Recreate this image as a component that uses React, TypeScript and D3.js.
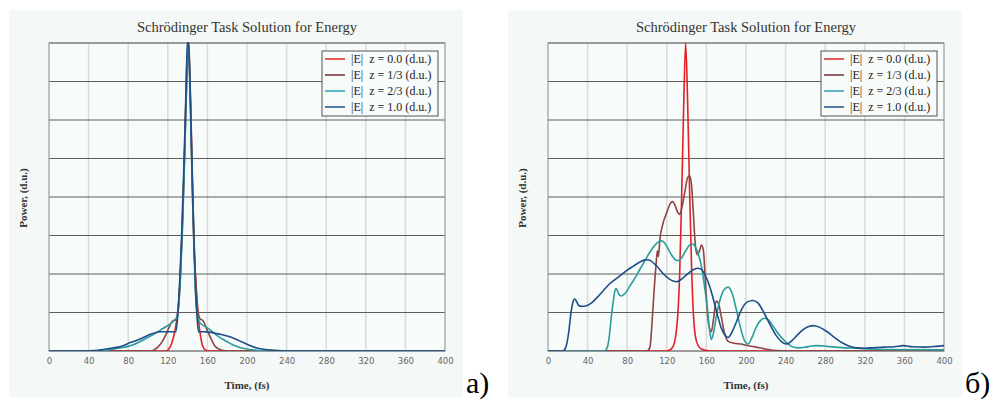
import React, { useEffect, useRef } from 'react';
import * as d3 from 'd3';

// time axis (fs) and power grid (d.u.)
const timeTicks = [0, 40, 80, 120, 160, 200, 240, 280, 320, 360, 400];
const powerGrid = [0, 1, 2, 3, 4, 5, 6, 7, 8];

const legendLabels = [
  '|E|  z = 0.0 (d.u.)',
  '|E|  z = 1/3 (d.u.)',
  '|E|  z = 2/3 (d.u.)',
  '|E|  z = 1.0 (d.u.)'
];
const seriesColors = ['#e41f25', '#8e4444', '#2b9c9c', '#1d4e89'];
const legendColors = ['#e03434', '#7e3a3a', '#3aa6b4', '#2e5c8c'];

// panel a) : [time, power]
const redA = [
  [0, 0], [118, 0], [121, 0.05], [124, 0.2], [127, 0.5], [129, 0.8], [131, 1.3], [133, 2.2],
  [135, 3.5], [137, 5.2], [138.5, 6.8], [140.5, 8.1], [142.5, 6.8], [144, 5.2], [145.5, 3.5],
  [147, 2.4], [149, 1.5], [151, 0.8], [153, 0.4], [155, 0.15], [158, 0.03], [162, 0], [400, 0]
];
const brownA = [
  [0, 0], [102, 0], [106, 0.03], [110, 0.1], [114, 0.23], [118, 0.42], [121, 0.6], [124, 0.75],
  [126, 0.8], [128, 0.8], [130, 0.95], [132, 1.6], [134, 2.8], [136, 4.3], [138, 6.0], [140, 7.6],
  [141, 8.1], [142.5, 7.0], [144, 5.5], [145.5, 3.8], [147, 2.5], [149, 1.5], [151, 0.95],
  [153, 0.82], [155, 0.8], [157, 0.72], [159, 0.58], [161, 0.47], [164, 0.3], [167, 0.15],
  [171, 0.06], [176, 0.01], [180, 0], [400, 0]
];
const tealA = [
  [0, 0], [50, 0], [58, 0.02], [66, 0.05], [74, 0.09], [80, 0.12], [85, 0.16], [90, 0.22],
  [96, 0.3], [102, 0.38], [108, 0.47], [113, 0.55], [118, 0.63], [122, 0.7], [126, 0.78],
  [129, 0.88], [131, 1.2], [133, 2.0], [135, 3.3], [137, 5.0], [139, 7.0], [140.5, 8.1],
  [142, 7.2], [143.5, 5.6], [145, 4.0], [146.5, 2.6], [148, 1.5], [150, 0.9], [152, 0.75],
  [156, 0.66], [160, 0.6], [164, 0.52], [168, 0.44], [172, 0.36], [176, 0.3], [180, 0.24],
  [185, 0.17], [190, 0.12], [196, 0.07], [202, 0.04], [210, 0.02], [220, 0], [400, 0]
];
const blueA = [
  [0, 0], [38, 0], [45, 0.01], [52, 0.03], [58, 0.05], [64, 0.08], [70, 0.1], [76, 0.15],
  [82, 0.22], [87, 0.26], [92, 0.31], [97, 0.37], [102, 0.43], [107, 0.47], [112, 0.5],
  [118, 0.5], [124, 0.5], [128, 0.5], [130, 0.9], [132, 1.8], [134, 3.0], [136, 4.6],
  [138, 6.4], [140, 8.1], [142, 7.4], [143.5, 5.8], [145, 4.2], [146.5, 2.8], [148, 1.6],
  [149.5, 0.9], [151, 0.5], [156, 0.5], [162, 0.49], [168, 0.46], [174, 0.43], [180, 0.39],
  [186, 0.34], [192, 0.27], [198, 0.2], [204, 0.13], [210, 0.08], [218, 0.04], [228, 0.02],
  [240, 0], [400, 0]
];

// panel б)
const redB = [
  [0, 0], [120, 0], [126, 0.1], [130, 0.6], [133, 2.0], [135, 4.0], [137, 6.3], [139, 8.0],
  [141, 6.5], [143, 4.2], [145, 2.2], [147, 0.9], [150, 0.25], [155, 0.05], [165, 0], [400, 0]
];
const brownB = [
  [0, 0], [100, 0], [103, 0.1], [105, 0.7], [107, 1.5], [109, 2.2], [110.5, 2.6], [111.5, 2.45],
  [113, 2.9], [116, 3.3], [120, 3.6], [124, 3.85], [126, 3.88], [128, 3.8], [131, 3.6],
  [133, 3.55], [135, 3.7], [138, 4.1], [141, 4.5], [143, 4.55], [145, 4.3], [147, 3.5],
  [149, 2.7], [151, 2.5], [153, 2.6], [155, 2.75], [157, 2.6], [159, 1.8], [161, 1.0],
  [163, 0.6], [165, 0.5], [167, 0.8], [170, 1.3], [172, 1.25], [175, 0.9], [178, 0.5],
  [182, 0.25], [188, 0.2], [195, 0.18], [200, 0.15], [210, 0.1], [220, 0.05], [230, 0.01],
  [240, 0], [400, 0]
];
const tealB = [
  [0, 0], [57, 0], [60, 0.1], [62, 0.4], [64, 0.9], [66, 1.3], [68, 1.6], [69, 1.62], [71, 1.5],
  [74, 1.43], [78, 1.5], [83, 1.7], [88, 1.9], [93, 2.13], [98, 2.35], [103, 2.57], [108, 2.75],
  [112, 2.84], [115, 2.86], [118, 2.8], [122, 2.62], [126, 2.45], [130, 2.35], [132, 2.35],
  [135, 2.42], [139, 2.6], [143, 2.75], [146, 2.78], [149, 2.7], [152, 2.5], [155, 2.2],
  [158, 1.7], [161, 1.1], [163, 0.6], [165, 0.3], [167, 0.45], [170, 0.9], [174, 1.35],
  [178, 1.6], [182, 1.66], [186, 1.5], [190, 1.1], [194, 0.65], [198, 0.3], [202, 0.18],
  [206, 0.35], [210, 0.6], [215, 0.8], [219, 0.85], [223, 0.8], [228, 0.62], [234, 0.4],
  [240, 0.24], [246, 0.12], [253, 0.08], [260, 0.1], [266, 0.13], [271, 0.14], [278, 0.13],
  [290, 0.1], [312, 0.07], [340, 0.04], [400, 0.03]
];
const blueB = [
  [0, 0], [15, 0], [18, 0.1], [21, 0.5], [23, 0.95], [25, 1.25], [27, 1.35], [29, 1.28],
  [31, 1.18], [34, 1.16], [38, 1.17], [44, 1.25], [50, 1.4], [56, 1.57], [62, 1.74], [68, 1.86],
  [74, 1.98], [80, 2.1], [86, 2.2], [92, 2.3], [97, 2.36], [100, 2.37], [104, 2.34], [110, 2.2],
  [116, 2.02], [122, 1.88], [127, 1.81], [130, 1.8], [134, 1.85], [140, 1.98], [146, 2.1],
  [151, 2.15], [155, 2.12], [159, 1.95], [163, 1.7], [167, 1.35], [171, 0.95], [175, 0.6],
  [179, 0.4], [182, 0.35], [186, 0.5], [191, 0.8], [196, 1.1], [201, 1.27], [207, 1.31],
  [212, 1.25], [218, 1.0], [224, 0.7], [230, 0.42], [236, 0.24], [241, 0.18], [246, 0.26],
  [252, 0.42], [258, 0.56], [264, 0.64], [268, 0.66], [274, 0.62], [282, 0.5], [290, 0.34],
  [298, 0.2], [306, 0.11], [312, 0.08], [320, 0.07], [330, 0.09], [340, 0.1], [350, 0.11],
  [359, 0.14], [368, 0.11], [380, 0.1], [392, 0.12], [400, 0.14]
];

const panels = [
  { left: 9, tag: 'a)', series: [redA, brownA, tealA, blueA] },
  { left: 508, tag: 'б)', series: [redB, brownB, tealB, blueB] }
];

const serif = '"Liberation Serif", "DejaVu Serif", serif';
const sans = '"DejaVu Sans", "Liberation Sans", sans-serif';

const App = () => {
  const chartRef = useRef<SVGSVGElement>(null);

  useEffect(() => {
    const svg = d3.select(chartRef.current);
    svg.selectAll('*').remove();

    panels.forEach((p, pi) => {
      const g = svg.append('g').attr('transform', `translate(${p.left},0)`);
      const bgW = 454;
      const plot = { left: 40, right: 436, top: 43, bottom: 351 };

      g.append('rect')
        .attr('x', 0).attr('y', 10)
        .attr('width', bgW).attr('height', 387)
        .attr('fill', '#f4f8f6');

      const x = d3.scaleLinear().domain([0, 400]).range([plot.left, plot.right]);
      const y = d3.scaleLinear().domain([0, 8]).range([plot.bottom, plot.top]);

      g.append('rect')
        .attr('x', plot.left).attr('y', plot.top)
        .attr('width', plot.right - plot.left).attr('height', plot.bottom - plot.top)
        .attr('fill', '#f7fbf9');

      // vertical light grid
      g.append('g')
        .selectAll('line')
        .data(timeTicks.slice(1, -1))
        .enter()
        .append('line')
        .attr('x1', d => x(d)).attr('x2', d => x(d))
        .attr('y1', plot.top).attr('y2', plot.bottom)
        .attr('stroke', '#d9dcda')
        .attr('stroke-width', 1.5);

      // horizontal dark grid
      g.append('g')
        .selectAll('line')
        .data(powerGrid)
        .enter()
        .append('line')
        .attr('x1', plot.left).attr('x2', plot.right)
        .attr('y1', d => y(d)).attr('y2', d => y(d))
        .attr('stroke', '#5e5e5e')
        .attr('stroke-width', 1);

      g.append('rect')
        .attr('x', plot.left).attr('y', plot.top)
        .attr('width', plot.right - plot.left).attr('height', plot.bottom - plot.top)
        .attr('fill', 'none')
        .attr('stroke', '#8a8a8a');

      const clipId = `clip-${pi}`;
      g.append('clipPath').attr('id', clipId)
        .append('rect')
        .attr('x', plot.left).attr('y', plot.top - 1)
        .attr('width', plot.right - plot.left).attr('height', plot.bottom - plot.top + 1);

      const line = d3.line<number[]>()
        .x(d => x(d[0]))
        .y(d => y(d[1]))
        .curve(d3.curveMonotoneX);

      const lines = g.append('g').attr('clip-path', `url(#${clipId})`);
      p.series.forEach((s, i) => {
        lines.append('path')
          .datum(s)
          .attr('d', line)
          .attr('fill', 'none')
          .attr('stroke', seriesColors[i])
          .attr('stroke-width', 1.6)
          .attr('stroke-linejoin', 'round');
      });

      // x axis labels
      const axis = g.append('g')
        .attr('transform', `translate(0,${plot.bottom})`)
        .call(d3.axisBottom(x).tickValues(timeTicks).tickSize(0).tickPadding(7).tickFormat(d3.format('d')));
      axis.select('.domain').remove();
      axis.selectAll('text')
        .attr('font-family', sans)
        .attr('font-size', 8.5)
        .attr('fill', '#666');

      g.append('text')
        .attr('x', (plot.left + plot.right) / 2)
        .attr('y', 32)
        .attr('text-anchor', 'middle')
        .attr('font-family', serif)
        .attr('font-size', 14.5)
        .attr('fill', '#333')
        .text('Schrödinger Task Solution for Energy');

      g.append('text')
        .attr('x', (plot.left + plot.right) / 2)
        .attr('y', 389)
        .attr('text-anchor', 'middle')
        .attr('font-family', serif)
        .attr('font-size', 11)
        .attr('font-weight', 'bold')
        .attr('fill', '#333')
        .text('Time, (fs)');

      g.append('text')
        .attr('transform', `translate(18,198) rotate(-90)`)
        .attr('text-anchor', 'middle')
        .attr('font-family', serif)
        .attr('font-size', 11)
        .attr('font-weight', 'bold')
        .attr('fill', '#333')
        .text('Power, (d.u.)');

      // legend
      const lg = g.append('g').attr('transform', `translate(${plot.right - 123},51)`);
      lg.append('rect')
        .attr('width', 116).attr('height', 65)
        .attr('fill', '#f7fbf9')
        .attr('stroke', '#555');
      legendLabels.forEach((lab, i) => {
        const yy = 8 + i * 16;
        lg.append('line')
          .attr('x1', 3).attr('x2', 23)
          .attr('y1', yy).attr('y2', yy)
          .attr('stroke', legendColors[i])
          .attr('stroke-width', 1.6);
        lg.append('text')
          .attr('x', 29).attr('y', yy + 4)
          .attr('font-family', serif)
          .attr('font-size', 12)
          .attr('fill', '#222')
          .attr('xml:space', 'preserve')
          .text(lab);
      });

      // panel tag
      g.append('text')
        .attr('x', bgW + 3)
        .attr('y', 393)
        .attr('font-family', '"Liberation Serif", serif')
        .attr('font-size', 30)
        .attr('fill', '#000')
        .text(p.tag);
    });
  }, []);

  return (
    <svg
      ref={chartRef}
      width={990}
      height={401}
      style={{ position: 'absolute', left: 0, top: 0, background: '#fff' }}
    />
  );
};

export default App;
